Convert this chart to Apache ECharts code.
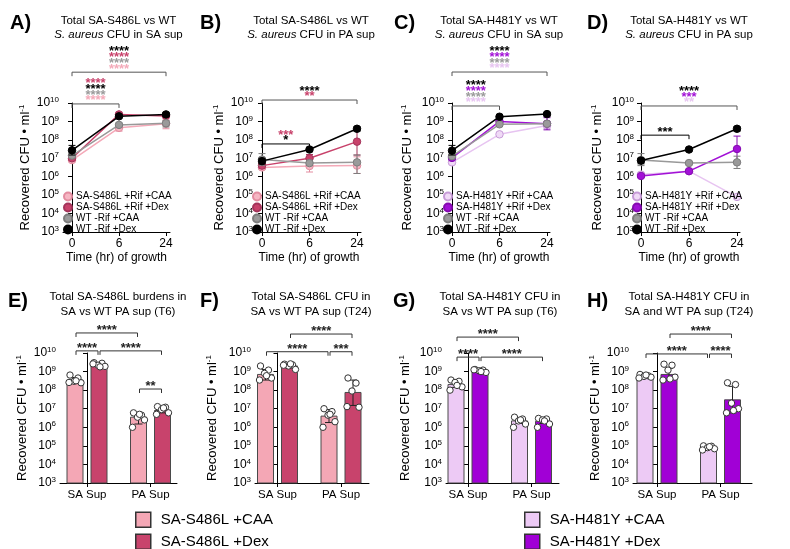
<!DOCTYPE html>
<html>
<head>
<meta charset="utf-8">
<script src="https://cdn.jsdelivr.net/npm/echarts@6/dist/echarts.min.js"></script>
<style>
html, body { margin: 0; padding: 0; background: #fff; }
#chart { width: 790px; height: 549px; }
</style>
</head>
<body>
<div id="chart"></div>
<script>
const FONT = 'Liberation Sans, Arial, Helvetica, sans-serif';

// ---------- data ----------
const timeLabels = ['0', '6', '24'];
const barCats = ['SA Sup', 'PA Sup'];

const s486Names = ['SA-S486L +Rif +CAA', 'SA-S486L +Rif +Dex', 'WT -Rif +CAA', 'WT -Rif +Dex'];
const h481Names = ['SA-H481Y +Rif +CAA', 'SA-H481Y +Rif +Dex', 'WT -Rif +CAA', 'WT -Rif +Dex'];

// A) S486L vs WT in SA sup  (CFU/ml at 0, 6, 24 hr)
const aMutCaa = [8e6, 4.5e8, 7.5e8];
const aMutDex = [1e7, 2.4e9, 2e9];
const aWtCaa = [1.4e7, 6.5e8, 8e8];
const aWtDex = [2.7e7, 1.9e9, 2.4e9];
const aMutCaaErr = [[6.5e6, 1e7], [3e8, 6e8], [4e8, 1.2e9]];
const aMutDexErr = [[8e6, 1.2e7], [1.8e9, 2.8e9], [1.6e9, 2.6e9]];
const aWtCaaErr = [[1.1e7, 1.8e7], [5e8, 8e8], [5e8, 1.1e9]];
const aWtDexErr = [[1.5e7, 5e7], [1.6e9, 2.2e9], [1.9e9, 3e9]];

// B) S486L vs WT in PA sup
const bMutCaa = [3.2e6, 3.8e6, 4e6];
const bMutDex = [4e6, 1e7, 8e7];
const bWtCaa = [8.5e6, 5.5e6, 6e6];
const bWtDex = [7e6, 3e7, 4e8];
const bMutCaaErr = [[2.5e6, 4e6], [1.8e6, 6e6], [1.5e6, 1.2e7]];
const bMutDexErr = [[3e6, 5.5e6], [6e6, 1.6e7], [1.5e7, 4e8]];
const bWtCaaErr = [[4e6, 1.8e7], [4e6, 7e6], [1.5e6, 1.5e7]];
const bWtDexErr = [[5e6, 1e7], [2.5e7, 3.5e7], [3e8, 5e8]];

// C) H481Y vs WT in SA sup
const cMutCaa = [6e6, 2e8, 6e8];
const cMutDex = [1.05e7, 1e9, 7.5e8];
const cWtCaa = [1.3e7, 7e8, 7.5e8];
const cWtDex = [2.6e7, 1.8e9, 2.5e9];
const cMutCaaErr = [[5e6, 7.5e6], [1.7e8, 2.4e8], [4e8, 9e8]];
const cMutDexErr = [[8.5e6, 1.3e7], [8e8, 1.2e9], [3.5e8, 1.6e9]];
const cWtCaaErr = [[1.1e7, 1.6e7], [6e8, 8e8], [6e8, 9e8]];
const cWtDexErr = [[1.5e7, 5e7], [1.5e9, 2.1e9], [2e9, 3e9]];

// D) H481Y vs WT in PA sup
const dMutCaa = [1.3e6, 2e6, 8e4];
const dMutDex = [1.1e6, 2e6, 3.2e7];
const dWtCaa = [8e6, 5.5e6, 6e6];
const dWtDex = [7.5e6, 3e7, 4e8];
const dMutCaaErr = [[1e6, 1.7e6], [1.7e6, 2.3e6], null];
const dMutDexErr = [[9e5, 1.3e6], [1.7e6, 2.3e6], [6e6, 1.6e8]];
const dWtCaaErr = [[4e6, 1.8e7], [4.5e6, 6.5e6], [2.8e6, 1.3e7]];
const dWtDexErr = [[5e6, 1e7], [2.5e7, 3.5e7], [3e8, 5e8]];

// brackets for time courses: [from x, to x, height]; star rows bottom-up: [series index, stars]
const brA = [[0, 1, 8.9e9], [0, 2, 4.7e11]];
const starsA = [[[0, '****'], [2, '****'], [3, '****'], [1, '****']],
                [[0, '****'], [2, '****'], [1, '****'], [3, '****']]];
const brB = [[0, 1, 6e7], [0, 2, 1.45e10]];
const starsB = [[[3, '*'], [1, '***']], [[1, '**'], [3, '****']]];
const brC = [[0, 1, 6.9e9], [0, 2, 4.8e11]];
const starsC = [[[0, '****'], [2, '****'], [1, '****'], [3, '****']],
                [[0, '****'], [2, '****'], [1, '****'], [3, '****']]];
const brD = [[0, 1, 1.8e8], [0, 2, 6.9e9]];
const starsD = [[[3, '***']], [[0, '**'], [1, '***'], [3, '****']]];

// bar panels: geometric means [SA Sup, PA Sup], error [lo, hi], replicate points
const eCaa = [3.5e8, 3.5e6];
const eDex = [2.3e9, 8e6];
const eCaaErr = [[2.7e8, 4.8e8], [1.5e6, 5.5e6]];
const eDexErr = [[1.9e9, 2.8e9], [6e6, 1.1e7]];
const eCaaDots = [[6.5e8, 4.5e8, 3e8, 2.5e8, 2.6e8, 3.2e8], [6e6, 4.5e6, 3.5e6, 2.5e6, 1e6, 5e6]];
const eDexDots = [[3e9, 2.8e9, 2.2e9, 1.9e9, 2.6e9, 1.8e9], [1.3e7, 1.2e7, 9e6, 6e6, 5e6, 1.1e7]];

const fCaa = [7e8, 4e6];
const fDex = [2e9, 7.5e7];
const fCaaErr = [[3.5e8, 1.3e9], [1.8e6, 9e6]];
const fDexErr = [[1.6e9, 2.4e9], [1.5e7, 3.5e8]];
const fCaaDots = [[2e9, 1.2e9, 8e8, 4.5e8, 3.5e8, 6e8], [1e7, 7e6, 4.5e6, 2e6, 1e6, 5e6]];
const fDexDots = [[2.5e9, 2.3e9, 2e9, 1.3e9, 2.2e9, 2.6e9], [4.5e8, 2.4e8, 9e7, 1.2e7, 1.3e7]];

const gCaa = [2e8, 2.2e6];
const gDex = [1.1e9, 2.1e6];
const gCaaErr = [[1.4e8, 2.9e8], [1.6e6, 3e6]];
const gDexErr = [[9.5e8, 1.25e9], [1.6e6, 2.7e6]];
const gCaaDots = [[3.5e8, 3e8, 2.6e8, 1.5e8, 1e8, 1.8e8], [3.5e6, 2.8e6, 2.2e6, 1.5e6, 1e6, 2.5e6]];
const gDexDots = [[1.3e9, 1.2e9, 1.1e9, 9e8, 1.25e9, 1e9], [3e6, 2.8e6, 2.5e6, 1.5e6, 1e6, 2.2e6]];

const hCaa = [5.5e8, 8e4];
const hDex = [7e8, 3e7];
const hCaaErr = [[4.8e8, 6.5e8], [6.5e4, 9.5e4]];
const hDexErr = [[3.5e8, 1.5e9], [6e6, 1.6e8]];
const hCaaDots = [[7e8, 6e8, 5.5e8, 5e8, 4.5e8, 6.5e8], [1e5, 9.5e4, 8e4, 7e4, 6e4, 9e4]];
const hDexDots = [[2.5e9, 2.2e9, 1.2e9, 5e8, 3.5e8, 4e8], [2.5e8, 2e8, 2e7, 1e7, 6e6, 8e6]];

// bar brackets: [from bar, to bar, height, stars]; bars 0..3 = SA CAA, SA Dex, PA CAA, PA Dex
const brE = [[0, 2, 1.2e11, '****'], [0, 1, 1.3e10, '****'], [1, 3, 1.3e10, '****'], [2, 3, 1.15e8, '**']];
const brF = [[1, 3, 1.05e11, '****'], [0, 2, 1.17e10, '****'], [2, 3, 1.17e10, '***']];
const brG = [[0, 2, 7.2e10, '****'], [0, 1, 6e9, '****'], [1, 3, 6e9, '****']];
const brH = [[1, 3, 1.05e11, '****'], [0, 2, 8.9e9, '****'], [2, 3, 8.9e9, '****']];

// ---------- styles / layout ----------
const palS = [
  {line: '#f4a9b8', fill: '#f6b6c3', border: '#e38ca0'},
  {line: '#c8426b', fill: '#c8426b', border: '#a3345a'},
  {line: '#999999', fill: '#9a9a9a', border: '#7d7d7d'},
  {line: '#000000', fill: '#000000', border: '#000000'}
];
const palH = [
  {line: '#e7c4f1', fill: '#f0daf6', border: '#c79bd8'},
  {line: '#a211d6', fill: '#a211d6', border: '#850bb0'},
  palS[2], palS[3]
];
const barFillS = ['#f4a7b5', '#c8436c'];
const barFillH = ['#edcaf5', '#a100d6'];

const LINE_TOP = 103, LINE_H = 129;
const BAR_TOP = 353, BAR_H = 130;
const BAR_UNIT = 63.5, BAR_W = 16, BAR_OFF = 12;
const JITTER = [-5, 3, -1, 6, -6, 1, 4];

const lineLayout = [
  {zero: 72, gap: 9, tail: 4, unit: 47, nameGap: 28, legendLeft: 63},
  {zero: 262, gap: 5, tail: 4, unit: 47.5, nameGap: 28, legendLeft: 252},
  {zero: 452, gap: 4, tail: 3, unit: 47.5, nameGap: 33, legendLeft: 443},
  {zero: 641, gap: 3, tail: 3, unit: 48, nameGap: 33, legendLeft: 632}
];
const barLayout = [
  {c0: 87, gap: 27, tail: 26.5, nameGap: 24},
  {c0: 277.5, gap: 22.5, tail: 28, nameGap: 35},
  {c0: 468, gap: 22, tail: 27.5, nameGap: 33},
  {c0: 657, gap: 24, tail: 31.5, nameGap: 28}
];

const linePanels = [
  {names: s486Names, pal: palS, vals: [aMutCaa, aMutDex, aWtCaa, aWtDex],
   errs: [aMutCaaErr, aMutDexErr, aWtCaaErr, aWtDexErr], br: brA, stars: starsA, brColor: ['#555', '#555']},
  {names: s486Names, pal: palS, vals: [bMutCaa, bMutDex, bWtCaa, bWtDex],
   errs: [bMutCaaErr, bMutDexErr, bWtCaaErr, bWtDexErr], br: brB, stars: starsB, brColor: ['#000', '#555']},
  {names: h481Names, pal: palH, vals: [cMutCaa, cMutDex, cWtCaa, cWtDex],
   errs: [cMutCaaErr, cMutDexErr, cWtCaaErr, cWtDexErr], br: brC, stars: starsC, brColor: ['#555', '#555']},
  {names: h481Names, pal: palH, vals: [dMutCaa, dMutDex, dWtCaa, dWtDex],
   errs: [dMutCaaErr, dMutDexErr, dWtCaaErr, dWtDexErr], br: brD, stars: starsD, brColor: ['#000', '#555']}
];
const barPanels = [
  {names: ['SA-S486L +CAA', 'SA-S486L +Dex'], fills: barFillS, means: [eCaa, eDex], errs: [eCaaErr, eDexErr], dots: [eCaaDots, eDexDots], br: brE},
  {names: ['SA-S486L +CAA', 'SA-S486L +Dex'], fills: barFillS, means: [fCaa, fDex], errs: [fCaaErr, fDexErr], dots: [fCaaDots, fDexDots], br: brF},
  {names: ['SA-H481Y +CAA', 'SA-H481Y +Dex'], fills: barFillH, means: [gCaa, gDex], errs: [gCaaErr, gDexErr], dots: [gCaaDots, gDexDots], br: brG},
  {names: ['SA-H481Y +CAA', 'SA-H481Y +Dex'], fills: barFillH, means: [hCaa, hDex], errs: [hCaaErr, hDexErr], dots: [hCaaDots, hDexDots], br: brH}
];

// ---------- helpers ----------
function yAxisCfg(gi, nameGap) {
  return {
    type: 'log', gridIndex: gi, logBase: 10, min: 1e3, max: 1e10,
    axisLine: {show: true, lineStyle: {color: '#000', width: 1}},
    axisTick: {show: true, length: 4, lineStyle: {color: '#000'}},
    splitLine: {show: false},
    axisLabel: {
      margin: 4,
      formatter: v => '{b|10}{s|' + Math.round(Math.log10(v)) + '}',
      rich: {
        b: {fontSize: 12, fontFamily: FONT, color: '#000', lineHeight: 14},
        s: {fontSize: 8, fontFamily: FONT, color: '#000', lineHeight: 8, verticalAlign: 'top'}
      }
    },
    name: 'Recovered CFU • ml{s|-1}', nameLocation: 'middle', nameGap: nameGap,
    nameTextStyle: {
      fontSize: 13, fontFamily: FONT, color: '#000', lineHeight: 15,
      rich: {s: {fontSize: 8, fontFamily: FONT, color: '#000', lineHeight: 8, verticalAlign: 'top'}}
    }
  };
}

function makeErrSeries(gi, errs, color, z) {
  const data = [];
  errs.forEach((e, i) => { if (e) data.push([i, e[0], e[1]]); });
  return {
    type: 'custom', xAxisIndex: gi, yAxisIndex: gi, z: z, silent: true,
    data: data, encode: {x: 0, y: [1, 2]},
    renderItem: (params, api) => {
      const lo = api.coord([api.value(0), api.value(1)]);
      const hi = api.coord([api.value(0), api.value(2)]);
      const x = lo[0];
      const st = {stroke: color, lineWidth: 1};
      return {type: 'group', children: [
        {type: 'line', shape: {x1: x, y1: hi[1], x2: x, y2: lo[1]}, style: st},
        {type: 'line', shape: {x1: x - 3.5, y1: hi[1], x2: x + 3.5, y2: hi[1]}, style: st},
        {type: 'line', shape: {x1: x - 3.5, y1: lo[1], x2: x + 3.5, y2: lo[1]}, style: st}
      ]};
    }
  };
}

function starText(x, y, text, color) {
  // asterisks sit high in the em box, shift down so the glyphs centre on y
  return {type: 'text', x: x, y: y + 3.3,
    style: {text: text, fill: color, font: 'bold 13px ' + FONT, align: 'center', verticalAlign: 'middle'}};
}

function makeLineBrackets(gi, p) {
  return {
    type: 'custom', xAxisIndex: gi, yAxisIndex: gi, z: 10, silent: true,
    data: p.br.map(b => [b[0], b[1], b[2]]), encode: {x: [0, 1], y: 2},
    renderItem: (params, api) => {
      const b = p.br[params.dataIndex];
      const a = api.coord([b[0], b[2]]), c = api.coord([b[1], b[2]]);
      const y = a[1];
      const ch = [{type: 'polyline',
        shape: {points: [[a[0], y + 4], [a[0], y], [c[0], y], [c[0], y + 4]]},
        style: {stroke: p.brColor[params.dataIndex], lineWidth: 1, fill: null}}];
      p.stars[params.dataIndex].forEach((r, k) => {
        const col = r[0] === 0 ? p.pal[0].line : p.pal[r[0]].fill;
        ch.push(starText((a[0] + c[0]) / 2, y - 6.5 - k * 5.7, r[1], col));
      });
      return {type: 'group', children: ch};
    }
  };
}

function makeBarBrackets(gi, brs) {
  return {
    type: 'custom', xAxisIndex: gi, yAxisIndex: gi, z: 10, silent: true,
    data: brs.map(b => [b[0], b[1], b[2]]), encode: {x: [0, 1], y: 2},
    renderItem: (params, api) => {
      const b = brs[params.dataIndex];
      const px = e => api.coord([Math.floor(e / 2), b[2]])[0] + (e % 2 ? BAR_OFF : -BAR_OFF);
      const y = api.coord([0, b[2]])[1];
      const x1 = px(b[0]) + 1, x2 = px(b[1]) - 1;
      return {type: 'group', children: [
        {type: 'polyline', shape: {points: [[x1, y + 4], [x1, y], [x2, y], [x2, y + 4]]},
         style: {stroke: '#333', lineWidth: 1, fill: null}},
        starText((x1 + x2) / 2, y - 6, b[3], '#222')
      ]};
    }
  };
}

function makeBarSeries(gi, name, side, fill, means, errs, dots) {
  return {
    type: 'custom', name: name, xAxisIndex: gi, yAxisIndex: gi, z: 3,
    itemStyle: {color: fill, borderColor: '#444', borderWidth: 1},
    data: means.map((m, j) => [j, m, errs[j][0], errs[j][1]]), encode: {x: 0, y: 1},
    renderItem: (params, api) => {
      const j = params.dataIndex;
      const top = api.coord([j, means[j]]);
      const base = api.coord([j, 1e3]);
      const x = top[0] + side * BAR_OFF;
      const yLo = api.coord([j, errs[j][0]])[1];
      const yHi = api.coord([j, errs[j][1]])[1];
      const es = {stroke: '#222', lineWidth: 1};
      const ch = [
        {type: 'rect', shape: {x: x - BAR_W / 2, y: top[1], width: BAR_W, height: base[1] - top[1]},
         style: {fill: fill, stroke: '#4a4a4a', lineWidth: 1}},
        {type: 'line', shape: {x1: x, y1: yHi, x2: x, y2: yLo}, style: es},
        {type: 'line', shape: {x1: x - 4, y1: yHi, x2: x + 4, y2: yHi}, style: es},
        {type: 'line', shape: {x1: x - 4, y1: yLo, x2: x + 4, y2: yLo}, style: es}
      ];
      dots[j].forEach((v, k) => {
        ch.push({type: 'circle', shape: {cx: x + JITTER[k % JITTER.length], cy: api.coord([j, v])[1], r: 3.2},
          style: {fill: '#fff', stroke: '#333', lineWidth: 1}});
      });
      return {type: 'group', children: ch};
    }
  };
}

// ---------- build option ----------
const grid = [], xAxis = [], yAxis = [], series = [], legend = [];

linePanels.forEach((p, gi) => {
  const L = lineLayout[gi];
  grid.push({left: L.zero - L.gap, top: LINE_TOP, width: L.gap + 2 * L.unit + L.tail, height: LINE_H, outerBoundsMode: 'none'});
  xAxis.push({
    type: 'value', gridIndex: gi, min: -L.gap / L.unit, max: 2 + L.tail / L.unit,
    axisLine: {lineStyle: {color: '#000', width: 1}},
    axisTick: {show: true, length: 4, customValues: [0, 1, 2], lineStyle: {color: '#000'}},
    axisLabel: {customValues: [0, 1, 2], formatter: v => timeLabels[Math.round(v)],
      fontSize: 12, fontFamily: FONT, color: '#000', margin: 6},
    splitLine: {show: false},
    name: 'Time (hr) of growth', nameLocation: 'middle', nameGap: 20,
    nameTextStyle: {fontSize: 12, fontFamily: FONT, color: '#000'}
  });
  yAxis.push(yAxisCfg(gi, L.nameGap));
  p.vals.forEach((vals, k) => {
    const c = p.pal[k];
    series.push({
      type: 'line', name: p.names[k], xAxisIndex: gi, yAxisIndex: gi, z: 3 + k,
      data: vals.map((v, i) => [i, v]),
      symbol: 'circle', symbolSize: 7.5, showSymbol: true,
      lineStyle: {color: c.line, width: 1.5},
      itemStyle: {color: c.fill, borderColor: c.border, borderWidth: 1},
      emphasis: {disabled: true}
    });
    series.push(makeErrSeries(gi, p.errs[k], c.border, 3 + k));
  });
  series.push(makeLineBrackets(gi, p));
  legend.push({
    data: p.names.map(n => ({name: n, icon: 'circle'})),
    orient: 'vertical', left: L.legendLeft, top: 191.5, padding: 0,
    itemWidth: 8, itemHeight: 8, itemGap: 1, selectedMode: false,
    textStyle: {fontSize: 10, lineHeight: 10, fontFamily: FONT, color: '#000', padding: [0, 0, 0, -1]}
  });
});

barPanels.forEach((p, bi) => {
  const gi = 4 + bi;
  const L = barLayout[bi];
  grid.push({left: L.c0 - L.gap, top: BAR_TOP, width: L.gap + BAR_UNIT + L.tail, height: BAR_H, outerBoundsMode: 'none'});
  xAxis.push({
    type: 'value', gridIndex: gi, min: -L.gap / BAR_UNIT, max: 1 + L.tail / BAR_UNIT,
    axisLine: {lineStyle: {color: '#000', width: 1}},
    axisTick: {show: true, length: 4, customValues: [0, 1], lineStyle: {color: '#000'}},
    axisLabel: {customValues: [0, 1], formatter: v => barCats[Math.round(v)],
      fontSize: 11.5, fontFamily: FONT, color: '#000', margin: 6},
    splitLine: {show: false}
  });
  yAxis.push(yAxisCfg(gi, L.nameGap));
  [0, 1].forEach(c => {
    series.push(makeBarSeries(gi, p.names[c], c === 0 ? -1 : 1, p.fills[c], p.means[c], p.errs[c], p.dots[c]));
  });
  series.push(makeBarBrackets(gi, p.br));
});

// bottom key: one legend per entry so nothing wraps
[[135, 511.5, 'SA-S486L +CAA'], [135, 533.5, 'SA-S486L +Dex'],
 [524, 511.5, 'SA-H481Y +CAA'], [524, 533.5, 'SA-H481Y +Dex']].forEach(([left, top, name]) => {
  legend.push({
    data: [{name: name, icon: 'rect'}],
    left: left, top: top, padding: 0,
    itemWidth: 15, itemHeight: 15, selectedMode: false,
    itemStyle: {borderColor: '#333', borderWidth: 1.5},
    textStyle: {fontSize: 15, lineHeight: 15, fontFamily: FONT, color: '#000', padding: [0, 0, 0, 5]}
  });
});

// panel letters and titles
const graphic = [];
const letters = [['A)', 10, 23], ['B)', 200, 23], ['C)', 394, 23], ['D)', 587, 23],
                 ['E)', 8, 301], ['F)', 200, 301], ['G)', 393, 301], ['H)', 587, 301]];
letters.forEach(([t, x, y]) => graphic.push({type: 'text', x: x, y: y,
  style: {text: t, font: 'bold 20px ' + FONT, fill: '#000', verticalAlign: 'middle'}}));

const titles = [
  [118.5, 21, 'Total SA-S486L vs WT'], [118.5, 34.5, '{i|S. aureus} CFU in SA sup'],
  [311, 21, 'Total SA-S486L vs WT'], [311, 34.5, '{i|S. aureus} CFU in PA sup'],
  [499, 21, 'Total SA-H481Y vs WT'], [499, 34.5, '{i|S. aureus} CFU in SA sup'],
  [689, 21, 'Total SA-H481Y vs WT'], [689, 34.5, '{i|S. aureus} CFU in PA sup'],
  [118, 297, 'Total SA-S486L burdens in'], [118, 311.5, 'SA vs WT PA sup (T6)'],
  [311, 297, 'Total SA-S486L CFU in'], [311, 311.5, 'SA vs WT PA sup (T24)'],
  [500, 297, 'Total SA-H481Y CFU in'], [500, 311.5, 'SA vs WT PA sup (T6)'],
  [689, 297, 'Total SA-H481Y CFU in'], [689, 311.5, 'SA and WT PA sup (T24)']
];
titles.forEach(([x, y, t]) => graphic.push({type: 'text', x: x, y: y,
  style: {text: t, font: '11.5px ' + FONT, fill: '#000', align: 'center', verticalAlign: 'middle',
    rich: {i: {fontStyle: 'italic', fontSize: 11.5, fontFamily: FONT, fill: '#000'}}}}));

const chart = echarts.init(document.getElementById('chart'), null, {renderer: 'canvas'});
chart.setOption({
  animation: false,
  backgroundColor: '#fff',
  textStyle: {fontFamily: FONT},
  grid: grid,
  xAxis: xAxis,
  yAxis: yAxis,
  legend: legend,
  graphic: graphic,
  series: series
});
</script>
</body>
</html>
